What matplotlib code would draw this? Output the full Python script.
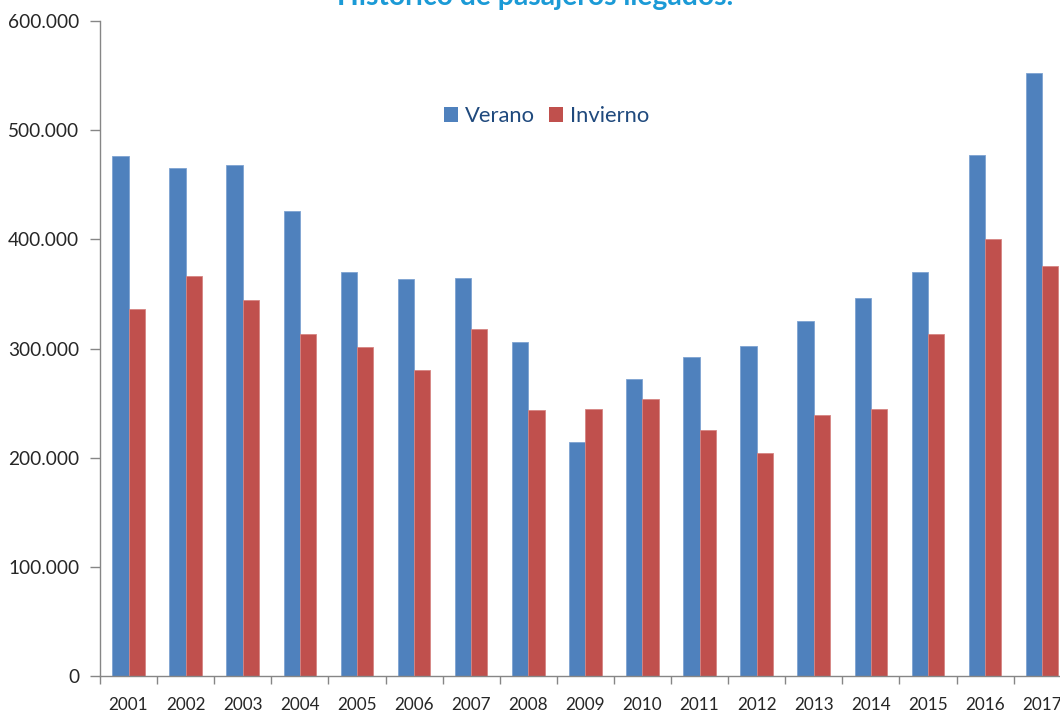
import matplotlib
matplotlib.use("Agg")
import matplotlib.pyplot as plt
import numpy as np
from matplotlib.ticker import FuncFormatter, FixedLocator

# Data
years = ["2001", "2002", "2003", "2004", "2005", "2006", "2007", "2008", "2009",
         "2010", "2011", "2012", "2013", "2014", "2015", "2016", "2017"]
verano = [476000, 465000, 468000, 426000, 370000, 364000, 365000, 306000, 214000,
          272000, 292000, 302000, 325000, 346000, 370000, 477000, 552000]
invierno = [336000, 366000, 344000, 313000, 301000, 280000, 318000, 244000, 245000,
            254000, 225000, 204000, 239000, 245000, 313000, 400000, 376000]

BLUE = "#4F81BD"
RED = "#C0504D"
AXIS_GREY = "#868686"
TEXT = "#262626"

plt.rcParams["font.family"] = ["Lato", "DejaVu Sans"]

fig = plt.figure(figsize=(10.6, 7.12), dpi=100)
# axes runs a bit past the right edge of the figure, like the cropped original
ax = fig.add_axes([100 / 1060, 36 / 712, 970.7 / 1060, 655 / 712])

x = np.arange(len(years))
w = 0.286
ax.bar(x - w / 2, verano, w, color=BLUE, label="Verano", edgecolor="#7EA3D2", linewidth=0.6)
ax.bar(x + w / 2, invierno, w, color=RED, label="Invierno", edgecolor="#D68583", linewidth=0.6)

ax.set_xlim(-0.5, len(years) - 0.5)
ax.set_ylim(0, 600000)

ax.set_yticks(np.arange(0, 600001, 100000))
ax.yaxis.set_major_formatter(FuncFormatter(lambda v, p: "0" if v == 0 else f"{int(v):,}".replace(",", ".")))
ax.tick_params(axis="y", direction="out", length=7, width=1, color=AXIS_GREY,
               labelsize=13.7, labelcolor=TEXT, pad=8)

ax.set_xticks(x)
ax.set_xticklabels(years)
ax.xaxis.set_minor_locator(FixedLocator(np.arange(-0.5, len(years), 1.0)))
ax.tick_params(axis="x", which="major", length=0, labelsize=12.3, labelcolor=TEXT, pad=15)
ax.tick_params(axis="x", which="minor", direction="out", length=6, width=1, color=AXIS_GREY)

for s in ["top", "right"]:
    ax.spines[s].set_visible(False)
for s in ["left", "bottom"]:
    ax.spines[s].set_color(AXIS_GREY)
    ax.spines[s].set_linewidth(1)

leg = ax.legend(loc="center", bbox_to_anchor=(0.46, 0.855), ncol=2, frameon=False,
                fontsize=15.8, handlelength=0.64, handleheight=0.64,
                handletextpad=0.3, columnspacing=0.65, borderpad=0)
for t in leg.get_texts():
    t.set_color("#1F497D")
for h in leg.legend_handles:
    h.set_linewidth(0)

# title is cut off at the top of the original image
fig.text(535 / 1060, 1 - 5 / 712, "Histórico de pasajeros llegados.", ha="center",
         va="baseline", fontsize=20.3, fontweight="bold", color="#1B9AD6")

fig.savefig("out.png", dpi=100)
